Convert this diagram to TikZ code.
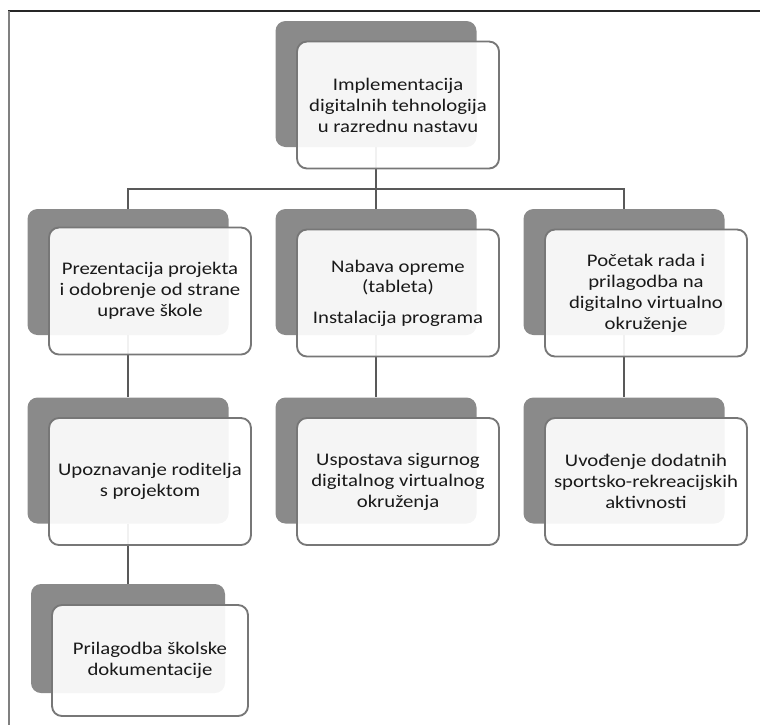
\documentclass[tikz,border=0pt]{standalone}
\usepackage{fontspec}
\setmainfont{Carlito}[FakeStretch=1.17]
\usetikzlibrary{calc}

\definecolor{shadegray}{HTML}{8A8A8A}
\definecolor{rimgray}{HTML}{777777}
\definecolor{linkgray}{HTML}{595959}

\tikzset{
  shade box/.style={fill=shadegray, rounded corners=7.5pt, inner sep=0pt,
    minimum width=150.75pt, minimum height=94.5pt},
  text box/.style={draw=rimgray, line width=1.4pt, fill=white, fill opacity=0.92,
    text opacity=1, text=black!90, rounded corners=7.5pt, align=center,
    minimum width=151.5pt, minimum height=95.25pt,
    font=\fontsize{13.3}{15.7}\selectfont},
  short shade/.style={minimum width=145.5pt, minimum height=81.75pt},
  short box/.style={minimum width=147pt, minimum height=83.25pt},
  link/.style={draw=linkgray, line width=1.5pt},
}

\begin{document}
\begin{tikzpicture}[x=0.75pt,y=-0.75pt]

\useasboundingbox (0,0) rectangle (760,725);

% frame
\draw[line width=1pt, black!85] (8,11) -- (760,11);
\draw[line width=1.5pt, black!50] (8.5,11) -- (8.5,725);

% shadow boxes
\node[shade box] (sh0) at (376,84) {};
\node[shade box] (sh1) at (128,272) {};
\node[shade box] (sh2) at (376,272) {};
\node[shade box] (sh3) at (624,272) {};
\node[shade box] (sh4) at (128,460.5) {};
\node[shade box] (sh5) at (376,460.5) {};
\node[shade box] (sh6) at (624,460.5) {};
\node[shade box, short shade] (sh7) at (128,638.5) {};

% connectors
\coordinate (bus) at (376,189);

\draw[link] (sh0.south) -- (bus);
\draw[link] (bus) -| (sh1.north);
\draw[link] (bus) -| (sh3.north);
\draw[link] (bus) -- (sh2.north);
\draw[link] (sh1.south) -- (sh4.north);
\draw[link] (sh2.south) -- (sh5.north);
\draw[link] (sh3.south) -- (sh6.north);
\draw[link] (sh4.south) -- (sh7.north);

% text boxes
\node[text box] (n0) at (398,105) {Implementacija\\digitalnih tehnologija\\u razrednu nastavu};

\node[text box] (n1) at (150,291) {Prezentacija projekta\\i odobrenje od strane\\uprave škole};
\node[text box] (n2) at (398,293) {Nabava opreme\\(tableta)\\[7pt]Instalacija programa};
\node[text box] (n3) at (646,293) {Početak rada i\\prilagodba na\\digitalno virtualno\\okruženje};

\node[text box] (n4) at (150,481.5) {Upoznavanje roditelja\\s projektom};
\node[text box] (n5) at (398,481.5) {Uspostava sigurnog\\digitalnog virtualnog\\okruženja};
\node[text box] (n6) at (646,481.5) {Uvođenje dodatnih\\sportsko-rekreacijskih\\aktivnosti};

\node[text box, short box] (n7) at (150,660.5) {Prilagodba školske\\dokumentacije};

\end{tikzpicture}
\end{document}
